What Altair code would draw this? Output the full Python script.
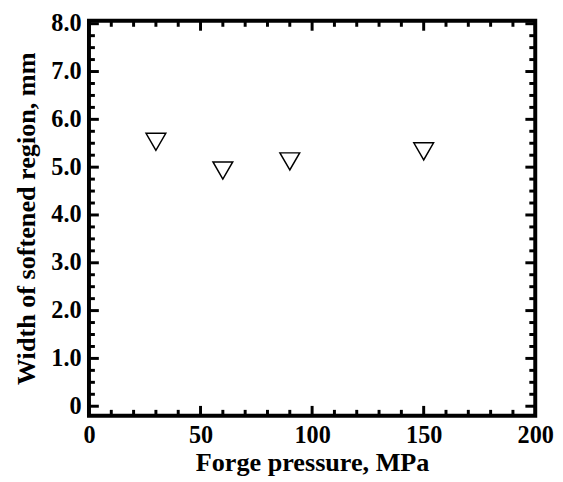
import altair as alt
import pandas as pd

# data
pressure = [30, 60, 90, 150]
softened_width = [5.53, 4.93, 5.12, 5.33]

# axis ticks
x_major = [0, 50, 100, 150, 200]
x_minor = [10, 20, 30, 40, 60, 70, 80, 90, 110, 120, 130, 140, 160, 170, 180, 190]
y_major = [0, 1, 2, 3, 4, 5, 6, 7, 8]
y_minor = [0.25, 0.5, 0.75, 1.25, 1.5, 1.75, 2.25, 2.5, 2.75, 3.25, 3.5, 3.75,
           4.25, 4.5, 4.75, 5.25, 5.5, 5.75, 6.25, 6.5, 6.75, 7.25, 7.5, 7.75]

W, H = 452, 400
MAJ, MIN = 10, 6
FONT = "Liberation Serif"

text_style = dict(
    labelFont=FONT, labelFontSize=24.5, labelFontWeight="bold", labelColor="black",
    titleFont=FONT, titleFontSize=26.5, titleFontWeight="bold", titleColor="black",
    ticks=False, domain=False, grid=False, labelFlush=False,
)

xscale = alt.Scale(domain=[0, 200], nice=False, zero=False)
yscale = alt.Scale(domain=[-0.2, 8.06], nice=False, zero=False)

df = pd.DataFrame({"p": pressure, "w": softened_width})

points = alt.Chart(df).mark_point(
    shape="triangle-down", filled=False, color="black", strokeWidth=1.5, size=400, opacity=1
).encode(
    x=alt.X("p:Q", scale=xscale, title="Forge pressure, MPa",
            axis=alt.Axis(values=x_major, format="d", labelPadding=8, titlePadding=3,
                          **text_style)),
    y=alt.Y("w:Q", scale=yscale, title="Width of softened region, mm",
            axis=alt.Axis(values=y_major,
                          labelExpr="datum.value == 0 ? '0' : format(datum.value, '.1f')",
                          labelPadding=8, titlePadding=11, **text_style)),
)

def yticks(vals, length):
    d = pd.DataFrame({"v": vals})
    left = alt.Chart(d).mark_rule(color="black", strokeWidth=3).encode(
        y=alt.Y("v:Q", scale=yscale), x=alt.value(0), x2=alt.value(length))
    right = alt.Chart(d).mark_rule(color="black", strokeWidth=3).encode(
        y=alt.Y("v:Q", scale=yscale), x=alt.value(W - length), x2=alt.value(W))
    return [left, right]

def xticks(vals, length):
    d = pd.DataFrame({"v": vals})
    bottom = alt.Chart(d).mark_rule(color="black", strokeWidth=3).encode(
        x=alt.X("v:Q", scale=xscale), y=alt.value(H - length), y2=alt.value(H))
    top = alt.Chart(d).mark_rule(color="black", strokeWidth=3).encode(
        x=alt.X("v:Q", scale=xscale), y=alt.value(0), y2=alt.value(length))
    return [bottom, top]

layers = [points]
layers += yticks(y_major, MAJ) + yticks(y_minor, MIN)
layers += xticks(x_major, MAJ) + xticks(x_minor, MIN)

chart = alt.layer(*layers).properties(
    width=W, height=H,
    autosize=alt.AutoSizeParams(type="none"),
    padding={"left": 82, "top": 10, "right": 20, "bottom": 60},
).configure_view(
    stroke="black", strokeWidth=4
)

chart.save("out.html", embed_options={"renderer": "svg", "actions": False})
